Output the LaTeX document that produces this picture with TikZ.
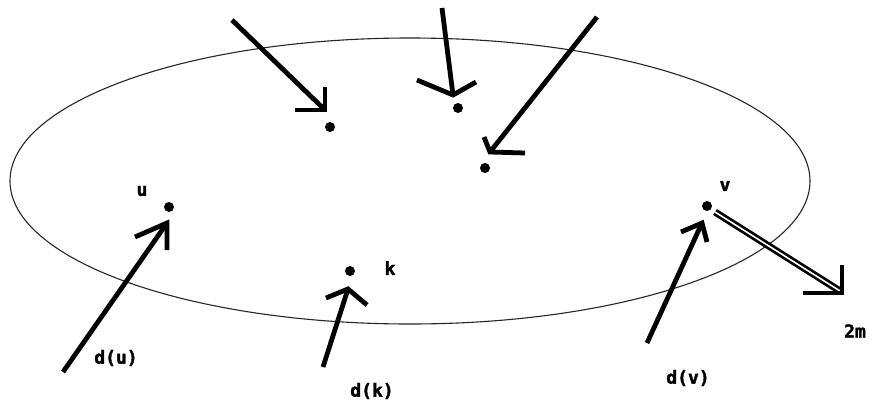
\documentclass[tikz,border=0pt]{standalone}
\usepackage{fontspec}
\newfontfamily\lblfont[FakeBold=1.8]{DejaVu Sans Mono Bold}
\begin{document}
\begin{tikzpicture}[x=1pt,y=-1pt,
  dot/.style={circle,fill=black,inner sep=0pt,minimum width=10pt,minimum height=9pt},
  lbl/.style={font=\lblfont\fontsize{18}{18}\selectfont,inner sep=0pt},
  shaft/.style={line width=4.8pt},
  barb/.style={line width=4.8pt,line join=miter},
  dshaft/.style={line width=2.7pt,double=white,double distance=1.6pt}]
\useasboundingbox (0,0) rectangle (873,407);
\fill[white] (0,0) rectangle (873,407);
% set (ellipse)
\draw[line width=1.1pt,black!85] (410,181) ellipse [x radius=400, y radius=143];
% vertices
\node[dot] (p1) at (330,127) {};
\node[dot] (p2) at (458,108) {};
\node[dot] (p3) at (485,168) {};
\node[dot] (u) at (169,207) {};
\node[dot] (k) at (350,271) {};
\node[dot] (v) at (707,206) {};
% labels
\node[lbl] (lu) at (142,191) {u};
\node[lbl] (lk) at (390,268) {k};
\node[lbl] (lv) at (725,186) {v};
\node[lbl] (ldu) at (116,358) {d(u)};
\node[lbl] (ldk) at (372,391) {d(k)};
\node[lbl] (ldv) at (688,378) {d(v)};
\node[lbl] (l2m) at (855,331) {2m};
% arrow coordinates
\coordinate (a1s) at (232,20);  \coordinate (a1t) at (325,110);
\coordinate (a1l) at (295,110); \coordinate (a1r) at (325,87);
\coordinate (a2s) at (442,8);   \coordinate (a2t) at (453,95);
\coordinate (a2l) at (417,80);  \coordinate (a2r) at (476,82);
\coordinate (a3s) at (597,17);  \coordinate (a3t) at (490,152);
\coordinate (a3l) at (484,137); \coordinate (a3r) at (525,153);
\coordinate (a4s) at (63,372);  \coordinate (a4t) at (167,223);
\coordinate (a4l) at (135,237); \coordinate (a4r) at (167,250);
\coordinate (a5s) at (323,367); \coordinate (a5t) at (348,289);
\coordinate (a5l) at (326,298); \coordinate (a5r) at (367,305);
\coordinate (a6s) at (647,343); \coordinate (a6t) at (702,223);
\coordinate (a6l) at (681,232); \coordinate (a6r) at (707,242);
\coordinate (a7s) at (715,212); \coordinate (a7t) at (840,291);
\coordinate (a7l) at (803,293); \coordinate (a7r) at (842,265);
% incoming arrows
\draw[shaft] (a1s) -- (a1t); \draw[barb] (a1l) -- (a1t) -- (a1r);
\draw[shaft] (a2s) -- (a2t); \draw[barb] (a2l) -- (a2t) -- (a2r);
\draw[shaft] (a3s) -- (a3t); \draw[barb] (a3l) -- (a3t) -- (a3r);
\draw[shaft] (a4s) -- (a4t); \draw[barb] (a4l) -- (a4t) -- (a4r);
\draw[shaft] (a5s) -- (a5t); \draw[barb] (a5l) -- (a5t) -- (a5r);
\draw[shaft] (a6s) -- (a6t); \draw[barb] (a6l) -- (a6t) -- (a6r);
% outgoing double arrow
\draw[dshaft] (a7s) -- (a7t);
\draw[barb] (a7l) -- (842,293) -- (a7r);
\end{tikzpicture}
\end{document}
